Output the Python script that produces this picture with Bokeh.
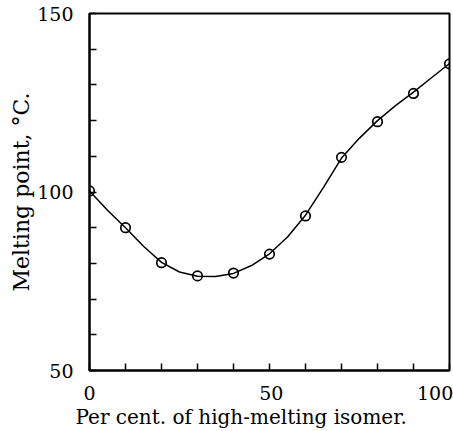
from bokeh.plotting import figure
from bokeh.models import Range1d, FixedTicker, Title, LinearAxis
from bokeh.embed import file_html
from bokeh.resources import INLINE

# ---- data ----
composition = [0, 10, 20, 30, 40, 50, 60, 70, 80, 90, 100]
melting = [100.3, 90.0, 80.2, 76.5, 77.3, 82.6, 93.3, 109.7, 119.7, 127.6, 135.9]

curve_x = [0, 5, 10, 15, 20, 25, 30, 35, 40, 45, 50, 55, 60, 65, 70, 75, 80, 85, 90, 95, 100]
curve_y = [100.3, 94.9, 90.0, 84.8, 80.3, 77.6, 76.4, 76.3, 77.2, 79.4, 82.7, 87.4,
           93.5, 101.3, 109.5, 115.1, 120.0, 124.2, 128.0, 132.0, 136.0]

x_ticks = [0, 10, 20, 30, 40, 50, 60, 70, 80, 90, 100]
y_ticks = [50, 60, 70, 80, 90, 100, 110, 120, 130, 140, 150]
x_labels = {0: "0", 50: "50", 100: "100"}
y_labels = {50: "50", 100: "100", 150: "150"}

FONT = "DejaVu Serif"
TICK_FONT_SIZE = "19px"

p = figure(width=453, height=431, output_backend="svg", toolbar_location=None,
           x_range=Range1d(0, 100), y_range=Range1d(50, 150),
           min_border_left=89, min_border_right=4, min_border_top=13, min_border_bottom=61)
p.background_fill_color = "white"
p.border_fill_color = "white"
p.xgrid.visible = False
p.ygrid.visible = False
p.outline_line_color = "black"
p.outline_line_width = 2

for ax, ticks in ((p.xaxis[0], x_ticks), (p.yaxis[0], y_ticks)):
    ax.ticker = FixedTicker(ticks=ticks)
    ax.major_tick_in = 7
    ax.major_tick_out = 0
    ax.minor_tick_line_color = None
    ax.major_tick_line_width = 1.5
    ax.major_tick_line_color = "black"
    ax.axis_line_width = 2
    ax.axis_line_color = "black"

# y tick labels on the main axis
yax = p.yaxis[0]
yax.major_label_overrides = {t: y_labels.get(t, "") for t in y_ticks}
yax.major_label_standoff = 16
yax.major_label_text_font = FONT
yax.major_label_text_font_size = TICK_FONT_SIZE
yax.major_label_text_color = "black"

# x tick marks only on the main axis
xax = p.xaxis[0]
xax.major_label_overrides = {t: "" for t in x_ticks}
xax.major_label_text_font_size = "1px"
xax.major_label_standoff = 0

# x tick labels on a label-only axis; "100" is pulled inside the page like the original
label_pos = {0: 0, 50: 50.5, 100: 96}
lab = LinearAxis(ticker=FixedTicker(ticks=[label_pos[k] for k in x_labels]),
                 major_label_overrides={label_pos[k]: v for k, v in x_labels.items()},
                 axis_line_color=None, major_tick_line_color=None, minor_tick_line_color=None,
                 major_label_standoff=9, major_label_text_font=FONT,
                 major_label_text_font_size=TICK_FONT_SIZE, major_label_text_color="black")
p.add_layout(lab, "below")

p.line(curve_x, curve_y, line_color="black", line_width=1.5, line_join="round")
p.scatter(composition, melting, marker="circle", size=9.5, fill_color=None,
          line_color="black", line_width=1.7)

# axis titles
p.add_layout(Title(text="Per cent. of high-melting isomer.", align="left", offset=-14,
                   text_font=FONT, text_font_size="20px", text_font_style="normal",
                   text_color="black", standoff=0), "below")
p.add_layout(Title(text="Melting point, \u00b0C.", align="center",
                   text_font=FONT, text_font_size="22px", text_font_style="normal",
                   text_color="black", standoff=2), "left")

open("out.html", "w").write(file_html(p, INLINE))
